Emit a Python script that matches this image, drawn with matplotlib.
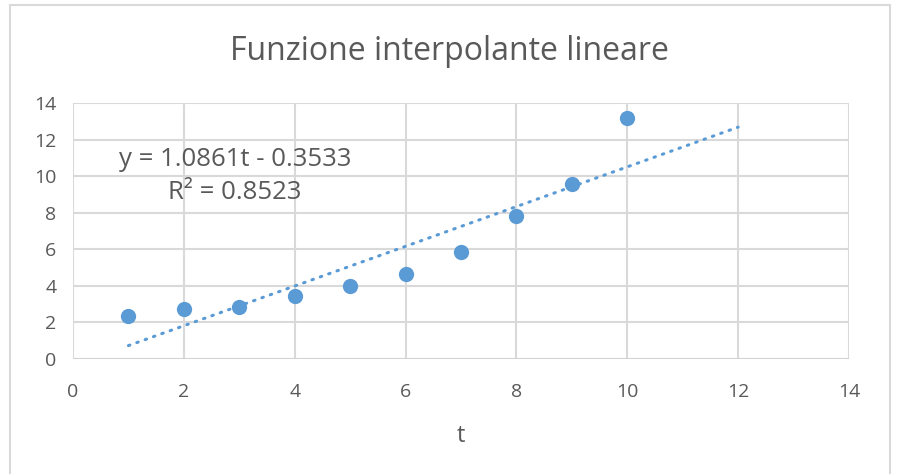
import matplotlib.pyplot as plt
import numpy as np
from matplotlib.patches import Rectangle

# Data
t = [1, 2, 3, 4, 5, 6, 7, 8, 9, 10]
y = [2.35, 2.73, 2.84, 3.44, 3.99, 4.65, 5.85, 7.82, 9.57, 13.18]

# Trendline (Excel linear fit)
slope = 1.0861
intercept = -0.3533
r2 = 0.8523
trend_t = [1, 12]

title = 'Funzione interpolante lineare'
xlabel = 't'

blue = '#5B9BD5'
gray_txt = '#595959'
grid_col = '#D9D9D9'

plt.rcParams['font.family'] = ['Open Sans', 'DejaVu Sans']

fig = plt.figure(figsize=(8.98, 4.74), dpi=100)
ax = fig.add_axes([73/898, 1-359/474, (849-73)/898, (359-103)/474])

# chart border
fig.patches.append(Rectangle((10/898, -0.1), 880/898, 1.1 - 5/474,
                             transform=fig.transFigure, fill=False,
                             edgecolor='#D9D9D9', linewidth=1.5))

tt = np.array(trend_t, dtype=float)
ax.plot(tt, slope*tt + intercept, linestyle=(0, (0.5, 2.4)), color=blue,
        linewidth=2.2, dash_capstyle='round', zorder=2)
ax.plot(t, y, 'o', color=blue, markersize=11, markeredgewidth=0, zorder=3)

ax.set_xlim(0, 14)
ax.set_ylim(0, 14)
ax.set_xticks(np.arange(0, 15, 2))
ax.set_yticks(np.arange(0, 15, 2))
ax.grid(True, color=grid_col, linewidth=1.5)
ax.set_axisbelow(True)
for s in ax.spines.values():
    s.set_visible(False)
ax.axhline(0, color='#D0D0D0', linewidth=1.8, zorder=1)
ax.tick_params(length=0, labelsize=14, labelcolor=gray_txt)
ax.tick_params(axis='y', pad=12)
ax.tick_params(axis='x', pad=17)

ax.set_xlabel(xlabel, fontsize=17, color=gray_txt, labelpad=17)
fig.text(0.5, 1-52/474, title, ha='center', va='center', fontsize=23, color=gray_txt)

sign = '-' if intercept < 0 else '+'
eq = f'y = {slope:.4f}t {sign} {abs(intercept):.4f}\nR² = {r2:.4f}'
ax.text(2.92, 10.0, eq, ha='center', va='center', multialignment='center',
        fontsize=18.5, color=gray_txt, linespacing=1.4)

fig.savefig('out.png', dpi=100)
